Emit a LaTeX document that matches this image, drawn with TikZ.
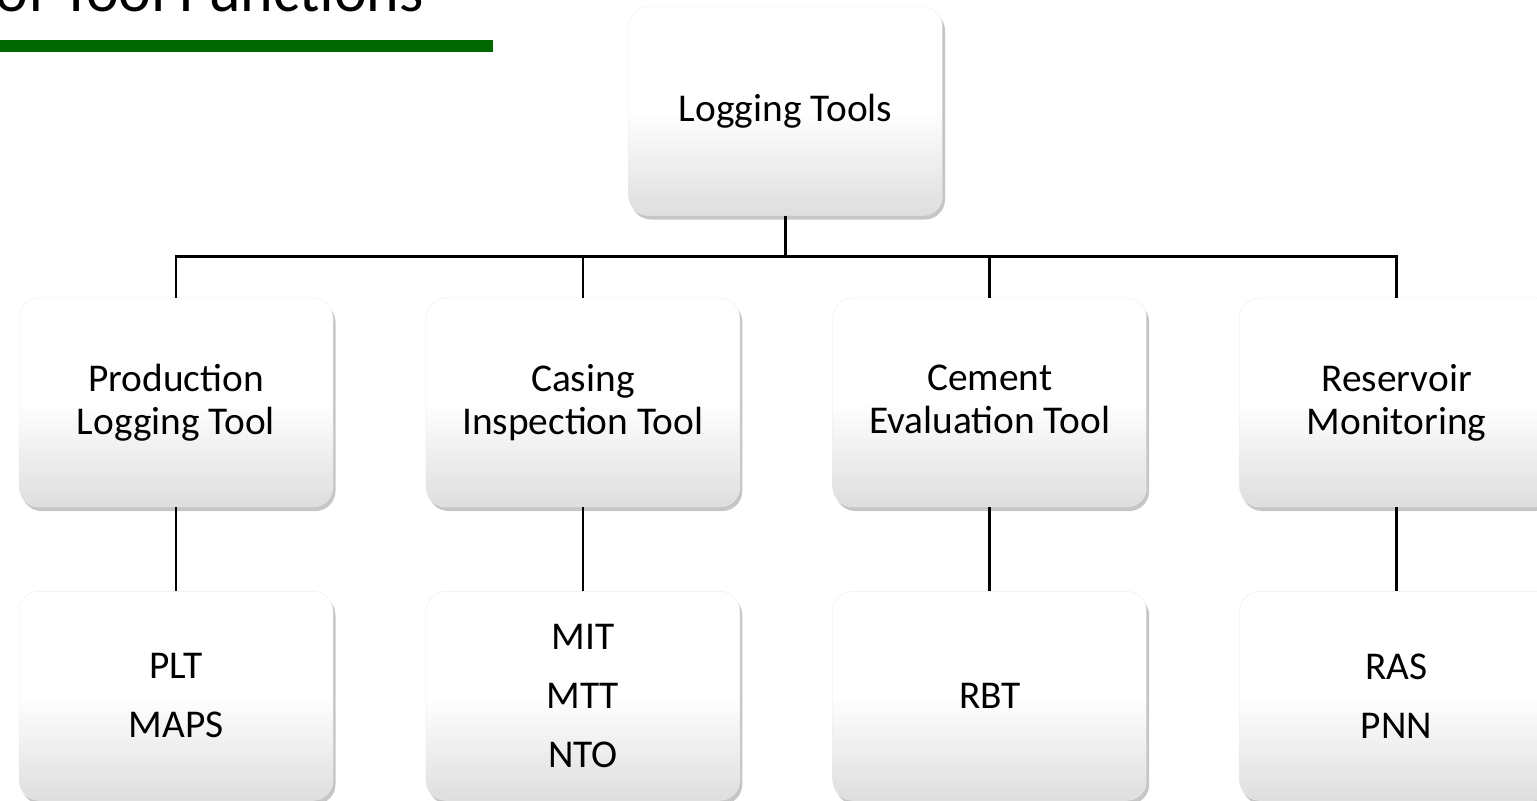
\documentclass[tikz,border=0pt]{standalone}
\usepackage{fontspec}
\setmainfont{Carlito}
\usetikzlibrary{positioning,shadows}
\definecolor{bargreen}{RGB}{0,102,0}
\begin{document}
\begin{tikzpicture}[
						toolbox/.style={rectangle, rounded corners=0.4cm, draw=black!8, very thin,
							top color=white, bottom color=black!13, middle color=white,
							drop shadow={shadow xshift=0.05cm, shadow yshift=-0.08cm, opacity=0.45},
							minimum width=6.28cm, minimum height=4.18cm, align=center,
							font=\fontsize{22.4}{24.5}\selectfont},
						headbox/.style={toolbox, execute at begin node=\vphantom{d}, execute at end node=\vphantom{g}},
						listbox/.style={toolbox, font=\fontsize{22.4}{33.5}\selectfont},
						link/.style={black, line width=1.4pt}
					]
					\useasboundingbox (0,0) rectangle (30.74,-16.02);
					\clip (0,0) rectangle (30.74,-16.02);
					\node[anchor=base east, font=\fontsize{35.3}{40}\selectfont] (title) at (8.6,-0.24) {of Tool Functions};
					\fill[bargreen] (0,-0.8) rectangle (9.86,-1.04);
					\node[headbox] (top) at (15.71,-2.22) {Logging Tools};
					\node[headbox] (plt) at (3.52,-8.05) {Production\\Logging Tool};
					\node[headbox] (cit) [right=1.85cm of plt] {Casing\\Inspection Tool};
					\node[headbox] (cet) [right=1.85cm of cit] {Cement\\Evaluation Tool};
					\node[headbox] (resmon) [right=1.85cm of cet] {Reservoir\\Monitoring};
					\node[listbox] (pltlist) [below=1.68cm of plt] {PLT\\MAPS};
					\node[listbox] (citlist) [below=1.68cm of cit] {MIT\\MTT\\NTO};
					\node[listbox] (cetlist) [below=1.68cm of cet] {RBT};
					\node[listbox] (resmonlist) [below=1.68cm of resmon] {RAS\\PNN};
					\begin{scope}[link]
					\draw (top.south) -- ++(0,-0.82) -| (plt.north);
					\draw (top.south) -- ++(0,-0.82) -| (cit.north);
					\draw (top.south) -- ++(0,-0.82) -| (cet.north);
					\draw (top.south) -- ++(0,-0.82) -| (resmon.north);
					\draw (plt.south) -- (pltlist.north);
					\draw (cit.south) -- (citlist.north);
					\draw (cet.south) -- (cetlist.north);
					\draw (resmon.south) -- (resmonlist.north);
					\end{scope}
					\end{tikzpicture}
\end{document}
